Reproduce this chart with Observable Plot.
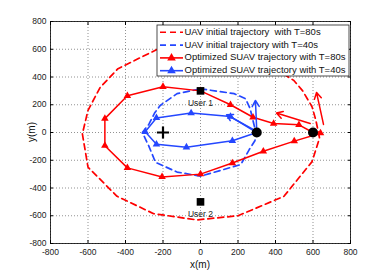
<!DOCTYPE html>
<html>
<head>
<meta charset="utf-8">
<script src="https://cdn.jsdelivr.net/npm/d3@7"></script>
<script src="https://cdn.jsdelivr.net/npm/@observablehq/plot@0.6"></script>
<style>
  body { margin: 0; background: #fff; }
  #chart { position: relative; width: 387px; height: 274px; }
</style>
</head>
<body>
<div id="chart"></div>
<script>
// ---- data ----
const xTicks = [-800, -600, -400, -200, 0, 200, 400, 600, 800];
const yTicks = [-800, -600, -400, -200, 0, 200, 400, 600, 800];

// UAV initial trajectory with T=80s (red dashed)
const redInitX = [-230, -440, -535, -600, -630, -600, -445, -250, -20, 200, 445, 595, 635, 615, 595, 545, 498, 350, 150, -50, -230];
const redInitY = [600, 460, 325, 160, -10, -250, -460, -585, -630, -600, -460, -210, -40, 90, 185, 300, 375, 500, 590, 620, 600];

// UAV initial trajectory with T=40s (blue dashed)
const blueInitX = [0, 180, 240, 265, 290, 300, 290, 260, 215, 0, -125, -240, -275, -310, -275, -245, -215, -125, 0];
const blueInitY = [315, 280, 243, 171, 30, 0, -60, -123, -231, -315, -285, -215, -100, 0, 60, 140, 195, 280, 315];

// Optimized SUAV trajectory with T=80s (red solid, triangles)
const redOptX = [600, 525, 390, 280, 160, 0, -200, -390, -510, -510, -390, -205, 0, 170, 335, 500, 640];
const redOptY = [0, 55, 65, 110, 200, 300, 330, 265, 100, -95, -255, -320, -300, -220, -135, -62, -5];

// Optimized SUAV trajectory with T=40s (blue solid, triangles)
const blueOptX = [300, 160, -50, -235, -295, -235, -75, 170, 300];
const blueOptY = [0, 115, 140, 105, 5, -85, -106, -60, 0];

// direction arrows
const redArrX1 = [585, 656], redArrY1 = [65, 58], redArrX2 = [405, 619], redArrY2 = [140, 288];
const blueArrX1 = [293, 300], blueArrY1 = [14, 14], blueArrX2 = [139, 293], blueArrY2 = [128, 231];

// markers
const userX = [0, 0], userY = [300, -500], userLabels = ["User 1", "User 2"];
const userLabelY = [214, -586];
const stationX = [300, 600], stationY = [0, 0];
const centerX = [-200], centerY = [0];

const legendLabels = [
  "UAV initial trajectory  with T=80s",
  "UAV initial trajectory with T=40s",
  "Optimized SUAV trajectory with T=80s",
  "Optimized SUAV trajectory with T=40s"
];

const RED = "#ff0000";
const BLUE = "#2447ff";
const FONT = "'Liberation Sans', Arial, sans-serif";

const pts = (xs, ys) => xs.map((x, i) => ({x, y: ys[i]}));
const arrs = (x1, y1, x2, y2) => x1.map((v, i) => ({x1: v, y1: y1[i], x2: x2[i], y2: y2[i]}));

const plot = Plot.plot({
  width: 387,
  height: 274,
  marginLeft: 50,
  marginRight: 37,
  marginTop: 21,
  marginBottom: 31,
  style: {fontFamily: FONT, background: "#fff", overflow: "visible"},
  x: {domain: [-800, 800]},
  y: {domain: [-800, 800]},
  marks: [
    Plot.gridX(xTicks, {stroke: "#777", strokeOpacity: 0.8, strokeDasharray: "1,2"}),
    Plot.gridY(yTicks, {stroke: "#777", strokeOpacity: 0.8, strokeDasharray: "1,2"}),
    Plot.line(pts(redInitX, redInitY), {x: "x", y: "y", stroke: RED, strokeWidth: 1.7, strokeDasharray: "6,4"}),
    Plot.line(pts(blueInitX, blueInitY), {x: "x", y: "y", stroke: BLUE, strokeWidth: 1.7, strokeDasharray: "6,4"}),
    Plot.line(pts(redOptX, redOptY), {x: "x", y: "y", stroke: RED, strokeWidth: 1.5}),
    Plot.dot(pts(redOptX, redOptY), {x: "x", y: "y", symbol: "triangle", fill: RED, r: 2.8}),
    Plot.line(pts(blueOptX, blueOptY), {x: "x", y: "y", stroke: BLUE, strokeWidth: 1.5}),
    Plot.dot(pts(blueOptX, blueOptY), {x: "x", y: "y", symbol: "triangle", fill: BLUE, r: 2.8}),
    Plot.arrow(arrs(redArrX1, redArrY1, redArrX2, redArrY2), {x1: "x1", y1: "y1", x2: "x2", y2: "y2", stroke: RED, strokeWidth: 1.5, headLength: 7}),
    Plot.arrow(arrs(blueArrX1, blueArrY1, blueArrX2, blueArrY2), {x1: "x1", y1: "y1", x2: "x2", y2: "y2", stroke: BLUE, strokeWidth: 1.5, headLength: 7}),
    Plot.dot(pts(stationX, stationY), {x: "x", y: "y", r: 5, fill: "black"}),
    Plot.dot(pts(userX, userY), {x: "x", y: "y", symbol: "square", r: 4.3, fill: "black"}),
    Plot.dot(pts(centerX, centerY), {x: "x", y: "y", symbol: "plus", r: 4, stroke: "black", strokeWidth: 2.2}),
    Plot.text(userLabels.map((t, i) => ({t, x: userX[i], y: userLabelY[i]})), {x: "x", y: "y", text: "t", fontSize: 8.5, fill: "#222"}),
    Plot.frame({stroke: "black", strokeWidth: 0.8}),
    Plot.axisX(xTicks, {anchor: "bottom", tickSize: 0, tickPadding: 5, tickFormat: d => String(d), label: null, fontSize: 8.5, fill: "#222"}),
    Plot.axisY(yTicks, {anchor: "left", tickSize: 0, tickPadding: 4, tickFormat: d => String(d), label: null, fontSize: 8.5, fill: "#222"}),
    Plot.axisX(xTicks, {anchor: "bottom", tickSize: -3, text: null, label: null}),
    Plot.axisX(xTicks, {anchor: "top", tickSize: -3, text: null, label: null}),
    Plot.axisY(yTicks, {anchor: "left", tickSize: -3, text: null, label: null}),
    Plot.axisY(yTicks, {anchor: "right", tickSize: -3, text: null, label: null})
  ]
});

document.getElementById("chart").appendChild(plot);

// axis labels and legend drawn on top of the plot SVG
const svg = d3.select(plot);
svg.append("text").attr("x", 200).attr("y", 265).attr("text-anchor", "middle")
  .attr("dominant-baseline", "middle").attr("font-size", 10).attr("font-family", FONT).attr("fill", "#111").text("x(m)");
svg.append("text").attr("transform", "translate(32,132) rotate(-90)").attr("text-anchor", "middle")
  .attr("dominant-baseline", "middle").attr("font-size", 10).attr("font-family", FONT).attr("fill", "#111").text("y(m)");

const lg = svg.append("g").attr("text-anchor", "start");
lg.append("rect").attr("x", 157).attr("y", 25).attr("width", 192).attr("height", 51)
  .attr("fill", "white").attr("stroke", "#222").attr("stroke-width", 0.8);
const styles = [
  {stroke: RED, dash: "6,4", marker: false},
  {stroke: BLUE, dash: "6,4", marker: false},
  {stroke: RED, dash: null, marker: true},
  {stroke: BLUE, dash: null, marker: true}
];
legendLabels.forEach((label, i) => {
  const yy = 32.3 + i * 12.8;
  const s = styles[i];
  lg.append("line").attr("x1", 160).attr("x2", 183).attr("y1", yy).attr("y2", yy)
    .attr("stroke", s.stroke).attr("stroke-width", 1.6).attr("stroke-dasharray", s.dash);
  if (s.marker) {
    lg.append("path").attr("d", d3.symbol(d3.symbolTriangle, Math.PI * 3.2 * 3.2)())
      .attr("transform", `translate(171.5,${yy})`).attr("fill", s.stroke);
  }
  lg.append("text").attr("x", 184.5).attr("y", yy).attr("text-anchor", "start").attr("dominant-baseline", "middle")
    .attr("font-size", 9.5).attr("font-family", FONT).attr("fill", "#111").text(label);
});
</script>
</body>
</html>
